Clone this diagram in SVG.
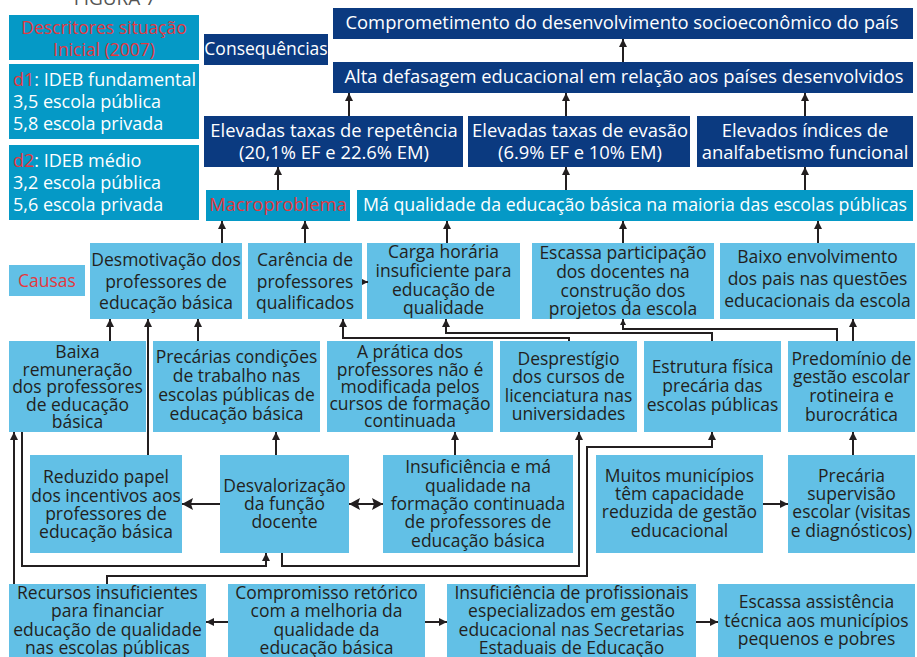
<svg xmlns="http://www.w3.org/2000/svg" width="917" height="657" viewBox="0 0 917 657">
<style>
text{font-family:"Open Sans","Liberation Sans",sans-serif;font-size:17.5px}
.c{text-anchor:middle}
.big{font-size:18.4px}
.d{font-size:18px}
.nv{fill:#0b3a80}
.dc{fill:#0599c6}
.lc{fill:#62c0e6}
.tw{fill:#ffffff}
.tr{fill:#e4383f}
.tk{fill:#231f20}
.ln{fill:none;stroke:#231f20;stroke-width:2}
</style>
<defs>
<marker id="a" markerUnits="userSpaceOnUse" markerWidth="9" markerHeight="9" refX="8" refY="4" orient="auto"><path d="M0,0L8,4L0,8z" fill="#231f20"/></marker>
<marker id="s" markerUnits="userSpaceOnUse" markerWidth="7" markerHeight="7" refX="6" refY="3" orient="auto"><path d="M0,0L6,3L0,6z" fill="#231f20"/></marker>
<marker id="b" markerUnits="userSpaceOnUse" markerWidth="13" markerHeight="13" refX="11" refY="6" orient="auto-start-reverse"><path d="M0,0L11,6L0,12L2,6z" fill="#231f20"/></marker>
</defs>
<rect width="917" height="657" fill="#ffffff"/>
<text x="115" y="5" class="c" style="font-size:19px;fill:#555">FIGURA 7</text>

<g id="desc-title"><rect class="dc" x="9" y="15" width="190" height="45"/><text class="c tr" x="104" y="34">Descritores situação</text><text class="c tr" x="104" y="56">Inicial (2007)</text></g>
<g id="desc-d1"><rect class="dc" x="9" y="64" width="190" height="75"/><text class="tw d" x="13" y="86"><tspan class="tr">d1</tspan>: IDEB fundamental</text><text class="tw d" x="13" y="108">3,5 escola pública</text><text class="tw d" x="13" y="130">5,8 escola privada</text></g>
<g id="desc-d2"><rect class="dc" x="9" y="145" width="190" height="75"/><text class="tw d" x="13" y="167"><tspan class="tr">d2</tspan>: IDEB médio</text><text class="tw d" x="13" y="189">3,2 escola pública</text><text class="tw d" x="13" y="211">5,6 escola privada</text></g>

<g id="consequencias"><rect class="nv" x="204" y="34" width="124" height="31"/><text class="c tw" x="266" y="55">Consequências</text></g>
<g id="comprometimento"><rect class="nv" x="333" y="8" width="580" height="31"/><text class="c tw big" x="622" y="29">Comprometimento do desenvolvimento socioeconômico do país</text></g>
<g id="alta-defasagem"><rect class="nv" x="333" y="62" width="580" height="31"/><text class="c tw big" x="624" y="83">Alta defasagem educacional em relação aos países desenvolvidos</text></g>
<g id="repetencia"><rect class="nv" x="204" y="116" width="259" height="51"/><text class="c tw big" x="334" y="137">Elevadas taxas de repetência</text><text class="c tw big" x="334" y="159">(20,1% EF e 22.6% EM)</text></g>
<g id="evasao"><rect class="nv" x="468" y="116" width="222" height="51"/><text class="c tw big" x="580" y="137">Elevadas taxas de evasão</text><text class="c tw big" x="580" y="159">(6.9% EF e 10% EM)</text></g>
<g id="analfabetismo"><rect class="nv" x="697" y="116" width="216" height="51"/><text class="c tw big" x="805" y="137">Elevados índices de</text><text class="c tw big" x="805" y="159">analfabetismo funcional</text></g>

<g id="macroproblema"><rect class="dc" x="206" y="190" width="144" height="31"/><text class="c tr big" x="278" y="211">Macroproblema</text></g>
<g id="ma-qualidade"><rect class="dc" x="357" y="190" width="556" height="31"/><text class="c tw" style="font-size:17.8px" x="635" y="211">Má qualidade da educação básica na maioria das escolas públicas</text></g>

<g id="causas"><rect class="lc" x="9" y="265" width="76" height="31"/><text class="c tr" x="47" y="287">Causas</text></g>
<g id="desmotivacao"><rect class="lc" x="90" y="243" width="152" height="76"/><text class="c tk" x="166" y="266">Desmotivação dos</text><text class="c tk" x="166" y="288">professores de</text><text class="c tk" x="166" y="309">educação básica</text></g>
<g id="carencia"><rect class="lc" x="248" y="243" width="114" height="76"/><text class="c tk" x="305" y="266">Carência de</text><text class="c tk" x="305" y="288">professores</text><text class="c tk" x="305" y="309">qualificados</text></g>
<g id="carga-horaria"><rect class="lc" x="367" y="243" width="153" height="76"/><text class="c tk" x="443.5" y="258">Carga horária</text><text class="c tk" x="443.5" y="277">insuficiente para</text><text class="c tk" x="443.5" y="296">educação de</text><text class="c tk" x="443.5" y="314">qualidade</text></g>
<g id="escassa-participacao"><rect class="lc" x="532" y="243" width="182" height="76"/><text class="c tk" x="623" y="259">Escassa participação</text><text class="c tk" x="623" y="278">dos docentes na</text><text class="c tk" x="623" y="297">construção dos</text><text class="c tk" x="623" y="315">projetos da escola</text></g>
<g id="baixo-envolvimento"><rect class="lc" x="720" y="243" width="195" height="76"/><text class="c tk" x="817.5" y="263">Baixo envolvimento</text><text class="c tk" x="817.5" y="285">dos pais nas questões</text><text class="c tk" x="817.5" y="307">educacionais da escola</text></g>

<g id="baixa-remuneracao"><rect class="lc" x="9" y="341" width="137" height="91"/><text class="c tk" x="77.5" y="358">Baixa</text><text class="c tk" x="77.5" y="376">remuneração</text><text class="c tk" x="77.5" y="393">dos professores</text><text class="c tk" x="77.5" y="411">de educação</text><text class="c tk" x="77.5" y="428">básica</text></g>
<g id="precarias-condicoes"><rect class="lc" x="153" y="341" width="167" height="91"/><text class="c tk" x="236.5" y="363">Precárias condições</text><text class="c tk" x="236.5" y="382">de trabalho nas</text><text class="c tk" x="236.5" y="401">escolas públicas de</text><text class="c tk" x="236.5" y="420">educação básica</text></g>
<g id="pratica-professores"><rect class="lc" x="327" y="341" width="166" height="91"/><text class="c tk" x="410" y="358">A prática dos</text><text class="c tk" x="410" y="376">professores não é</text><text class="c tk" x="410" y="393">modificada pelos</text><text class="c tk" x="410" y="410">cursos de formação</text><text class="c tk" x="410" y="427">continuada</text></g>
<g id="desprestigio"><rect class="lc" x="500" y="341" width="137" height="91"/><text class="c tk" x="568.5" y="365">Desprestígio</text><text class="c tk" x="568.5" y="383">dos cursos de</text><text class="c tk" x="568.5" y="402">licenciatura nas</text><text class="c tk" x="568.5" y="420">universidades</text></g>
<g id="estrutura-fisica"><rect class="lc" x="644" y="341" width="137" height="91"/><text class="c tk" x="712.5" y="373">Estrutura física</text><text class="c tk" x="712.5" y="392">precária das</text><text class="c tk" x="712.5" y="411">escolas públicas</text></g>
<g id="predominio-gestao"><rect class="lc" x="788" y="341" width="127" height="91"/><text class="c tk" x="851.5" y="365">Predomínio de</text><text class="c tk" x="851.5" y="383">gestão escolar</text><text class="c tk" x="851.5" y="402">rotineira e</text><text class="c tk" x="851.5" y="421">burocrática</text></g>

<g id="reduzido-papel"><rect class="lc" x="30" y="455" width="152" height="98"/><text class="c tk" x="106" y="483">Reduzido papel</text><text class="c tk" x="106" y="502">dos incentivos aos</text><text class="c tk" x="106" y="520">professores de</text><text class="c tk" x="106" y="538">educação básica</text></g>
<g id="desvalorizacao"><rect class="lc" x="220" y="455" width="129" height="98"/><text class="c tk" x="284.5" y="492">Desvalorização</text><text class="c tk" x="284.5" y="510">da função</text><text class="c tk" x="284.5" y="528">docente</text></g>
<g id="insuficiencia-formacao"><rect class="lc" x="383" y="455" width="190" height="98"/><text class="c tk" x="478" y="473">Insuficiência e má</text><text class="c tk" x="478" y="492">qualidade na</text><text class="c tk" x="478" y="510">formação continuada</text><text class="c tk" x="478" y="528">de professores de</text><text class="c tk" x="478" y="547">educação básica</text></g>
<g id="muitos-municipios"><rect class="lc" x="596" y="455" width="167" height="98"/><text class="c tk" x="679.5" y="482">Muitos municípios</text><text class="c tk" x="679.5" y="500">têm capacidade</text><text class="c tk" x="679.5" y="518">reduzida de gestão</text><text class="c tk" x="679.5" y="537">educacional</text></g>
<g id="precaria-supervisao"><rect class="lc" x="788" y="455" width="127" height="98"/><text class="c tk" x="851.5" y="482">Precária</text><text class="c tk" x="851.5" y="500">supervisão</text><text class="c tk" x="851.5" y="518">escolar (visitas</text><text class="c tk" x="851.5" y="537">e diagnósticos)</text></g>

<g id="recursos-insuficientes"><rect class="lc" x="9" y="584" width="197" height="80"/><text class="c tk" x="107.5" y="599">Recursos insuficientes</text><text class="c tk" x="107.5" y="617">para financiar</text><text class="c tk" x="107.5" y="636">educação de qualidade</text><text class="c tk" x="107.5" y="654">nas escolas públicas</text></g>
<g id="compromisso-retorico"><rect class="lc" x="228" y="584" width="197" height="80"/><text class="c tk" x="326.5" y="599">Compromisso retórico</text><text class="c tk" x="326.5" y="617">com a melhoria da</text><text class="c tk" x="326.5" y="636">qualidade da</text><text class="c tk" x="326.5" y="654">educação básica</text></g>
<g id="insuficiencia-profissionais"><rect class="lc" x="447" y="584" width="249" height="80"/><text class="c tk" x="571.5" y="599">Insuficiência de profissionais</text><text class="c tk" x="571.5" y="617">especializados em gestão</text><text class="c tk" x="571.5" y="636">educacional nas Secretarias</text><text class="c tk" x="571.5" y="654">Estaduais de Educação</text></g>
<g id="escassa-assistencia"><rect class="lc" x="718" y="584" width="197" height="80"/><text class="c tk" x="816.5" y="608">Escassa assistência</text><text class="c tk" x="816.5" y="627">técnica aos municípios</text><text class="c tk" x="816.5" y="645">pequenos e pobres</text></g>

<g id="connectors">
<path class="ln" marker-end="url(#a)" d="M623,62V39"/>
<path class="ln" marker-end="url(#a)" d="M349,116V93"/>
<path class="ln" marker-end="url(#a)" d="M566,116V93"/>
<path class="ln" marker-end="url(#a)" d="M805,116V93"/>
<path class="ln" marker-end="url(#a)" d="M278,190V167"/>
<path class="ln" marker-end="url(#a)" d="M566,190V167"/>
<path class="ln" marker-end="url(#a)" d="M805,190V167"/>
<path class="ln" marker-end="url(#a)" d="M222,243V221"/>
<path class="ln" marker-end="url(#a)" d="M305,243V221"/>
<path class="ln" marker-end="url(#a)" d="M447,243V221"/>
<path class="ln" marker-end="url(#a)" d="M623,243V221"/>
<path class="ln" marker-end="url(#a)" d="M818,243V221"/>
<path class="ln" marker-end="url(#s)" d="M362,282H368"/>
<path class="ln" marker-end="url(#a)" d="M110,341V319"/>
<path class="ln" marker-end="url(#a)" d="M198,341V319"/>
<path class="ln" marker-end="url(#a)" d="M148,455V319"/>
<path class="ln" marker-end="url(#a)" d="M569,341V338H343V319"/>
<path class="ln" marker-end="url(#a)" d="M712,341V333H446V319"/>
<path class="ln" marker-end="url(#s)" d="M837,341V329H623V319"/>
<path class="ln" marker-end="url(#a)" d="M853,341V319"/>
<path class="ln" marker-end="url(#a)" d="M276,455V432"/>
<path class="ln" marker-end="url(#a)" d="M455,455V432"/>
<path class="ln" marker-end="url(#a)" d="M853,455V432"/>
<path class="ln" marker-end="url(#b)" d="M220,504H182"/>
<path class="ln" marker-start="url(#b)" marker-end="url(#b)" d="M349,504H383"/>
<path class="ln" marker-end="url(#a)" d="M763,504H788"/>
<path class="ln" marker-end="url(#a)" d="M14,584V432"/>
<path class="ln" marker-end="url(#a)" d="M22,432V566H266V553"/>
<path class="ln" marker-end="url(#a)" d="M282,553V566H579V432"/>
<path class="ln" marker-end="url(#a)" d="M107,584V576H587V447H712V432"/>
<path class="ln" marker-end="url(#a)" d="M228,622H206"/>
<path class="ln" marker-end="url(#a)" d="M425,622H447"/>
<path class="ln" marker-end="url(#a)" d="M696,622H718"/>
</g>
</svg>
